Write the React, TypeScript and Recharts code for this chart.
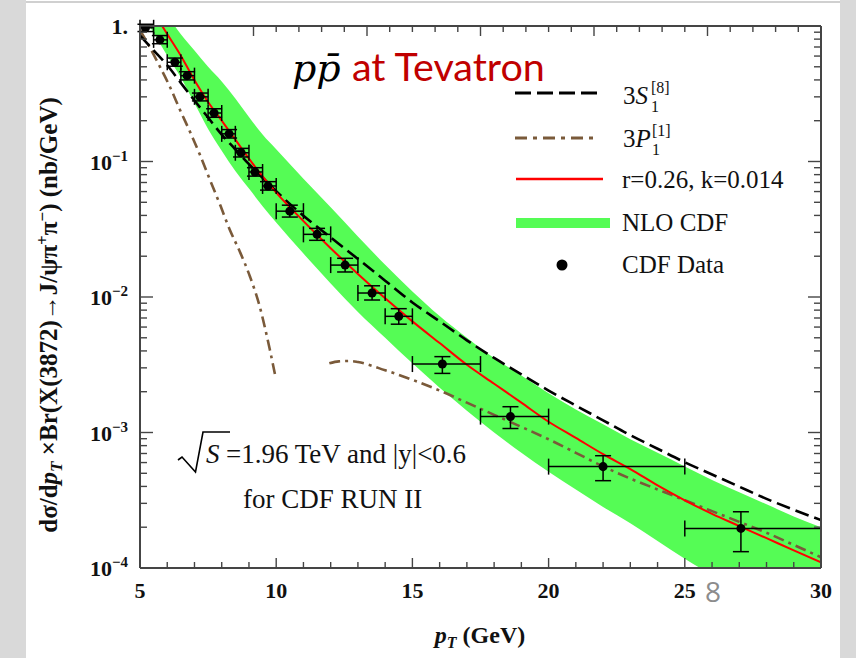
import React from 'react';
import { ComposedChart, Line, Area, Scatter, XAxis, YAxis, ErrorBar } from 'recharts';

// ---------- CDF data points ----------
const ptData = [5.2, 5.73, 6.28, 6.73, 7.2, 7.72, 8.27, 8.71, 9.22, 9.7, 10.5, 11.5, 12.53, 13.52, 14.5, 16.1, 18.6, 22.0, 27.06];
const sigmaData = [0.97, 0.79, 0.54, 0.43, 0.30, 0.228, 0.160, 0.116, 0.0837, 0.066, 0.043, 0.029, 0.0172, 0.0107, 0.0072, 0.0032, 0.00131, 0.00056, 0.000196];
const sigmaLo = [0.91, 0.74, 0.505, 0.40, 0.28, 0.212, 0.149, 0.108, 0.078, 0.0615, 0.0389, 0.0262, 0.0153, 0.0095, 0.0063, 0.00273, 0.00107, 0.000441, 0.000132];
const sigmaHi = [1.03, 0.85, 0.58, 0.46, 0.32, 0.245, 0.172, 0.125, 0.090, 0.071, 0.0476, 0.0321, 0.0193, 0.0121, 0.0082, 0.00363, 0.00155, 0.000674, 0.00026];
const ptBinLo = [5, 5.5, 6, 6.5, 7, 7.5, 8, 8.5, 9, 9.5, 10, 11, 12, 13, 14, 15, 17.5, 20, 25];
const ptBinHi = [5.5, 6, 6.5, 7, 7.5, 8, 8.5, 9, 9.5, 10, 11, 12, 13, 14, 15, 17.5, 20, 25, 30];

// ---------- NLO CDF band ----------
const bandPt = [5, 5.5, 6, 6.5, 7, 7.5, 8, 8.5, 9, 9.5, 10, 11, 12, 13, 14, 15, 16, 17, 18, 19, 20, 21, 22, 23, 24, 25, 26, 27, 28, 29, 30];
const bandUpper = [2.4, 1.7, 1.2, 0.87, 0.66, 0.50, 0.39, 0.292, 0.213, 0.158, 0.123, 0.0745, 0.0460, 0.0280, 0.0173, 0.0110, 0.00724, 0.00501, 0.00355, 0.00263, 0.00195, 0.00148, 0.00115, 0.000891, 0.000708, 0.000562, 0.000447, 0.000363, 0.000295, 0.000240, 0.000200];
const bandLower = [1.32, 0.891, 0.603, 0.417, 0.269, 0.174, 0.120, 0.0851, 0.0631, 0.0468, 0.0355, 0.0209, 0.0126, 0.00776, 0.00501, 0.00324, 0.00214, 0.00145, 0.00100, 0.000708, 0.000513, 0.000380, 0.000282, 0.000214, 0.000158, 0.000117, 0.0000891, 0.0000708, 0.0000562, 0.0000447, 0.0000355];

// ---------- r=0.26, k=0.014 (red) ----------
const redPt = [5.6, 5.75, 6, 6.5, 7, 7.5, 8, 8.5, 9, 9.5, 10, 11, 12, 13, 14, 15, 16, 17, 18, 19, 20, 21, 22, 23, 24, 25, 26, 27, 28, 29, 30];
const redVal = [1.17, 1.05, 0.871, 0.603, 0.398, 0.275, 0.200, 0.145, 0.105, 0.0776, 0.0589, 0.0363, 0.0229, 0.0148, 0.00977, 0.00661, 0.00457, 0.00316, 0.00229, 0.00166, 0.00120, 0.000912, 0.000692, 0.000537, 0.000407, 0.000316, 0.000251, 0.000204, 0.000166, 0.000135, 0.000110];

// ---------- 3S1[8] (black dashed) ----------
const s8Pt = [5, 5.5, 6, 6.5, 7, 7.5, 8, 8.5, 9, 9.5, 10, 11, 12, 13, 14, 15, 16, 17, 18, 19, 20, 21, 22, 23, 24, 25, 26, 27, 28, 29, 30];
const s8Val = [0.851, 0.661, 0.513, 0.380, 0.282, 0.211, 0.158, 0.123, 0.0955, 0.0759, 0.0603, 0.0398, 0.0275, 0.0191, 0.0132, 0.00912, 0.00661, 0.00479, 0.00355, 0.00269, 0.00204, 0.00158, 0.00123, 0.000955, 0.000759, 0.000603, 0.000490, 0.000398, 0.000324, 0.000269, 0.000226];

// ---------- 3P1[1] (brown dash-dot), two branches ----------
const p1aPt = [5.0, 5.37, 5.73, 6.10, 6.47, 6.84, 7.20, 7.57, 7.94, 8.30, 8.67, 9.04, 9.41, 9.59, 9.77, 9.99];
const p1aVal = [0.933, 0.689, 0.501, 0.355, 0.240, 0.165, 0.112, 0.0730, 0.0479, 0.0312, 0.0215, 0.0141, 0.0083, 0.0059, 0.00406, 0.00248];
const p1bPt = [11.95, 12.3, 12.7, 13, 14, 15, 16, 17, 18, 19, 20, 21, 22, 23, 24, 25, 26, 27, 28, 29, 30];
const p1bVal = [0.00324, 0.00335, 0.00337, 0.00331, 0.00288, 0.00245, 0.00204, 0.00166, 0.00135, 0.00110, 0.000891, 0.000708, 0.000562, 0.000457, 0.000380, 0.000316, 0.000263, 0.000219, 0.000182, 0.000148, 0.000120];

// ---------- ticks ----------
const xTicks = [5, 6, 7, 8, 9, 10, 11, 12, 13, 14, 15, 16, 17, 18, 19, 20, 21, 22, 23, 24, 25, 26, 27, 28, 29, 30];
const yTicks = [
  0.0001, 0.0002, 0.0003, 0.0004, 0.0005, 0.0006, 0.0007, 0.0008, 0.0009,
  0.001, 0.002, 0.003, 0.004, 0.005, 0.006, 0.007, 0.008, 0.009,
  0.01, 0.02, 0.03, 0.04, 0.05, 0.06, 0.07, 0.08, 0.09,
  0.1, 0.2, 0.3, 0.4, 0.5, 0.6, 0.7, 0.8, 0.9, 1,
];
const yMajorLabels: Record<string, string> = { '1': '', '0.1': '−1', '0.01': '−2', '0.001': '−3', '0.0001': '−4' };

// ---------- build tables ----------
const bandData = bandPt.map((p, i) => ({ pt: p, band: [bandLower[i], bandUpper[i]] }));
const redData = redPt.map((p, i) => ({ pt: p, v: redVal[i] }));
const s8Data = s8Pt.map((p, i) => ({ pt: p, v: s8Val[i] }));
const p1aData = p1aPt.map((p, i) => ({ pt: p, v: p1aVal[i] }));
const p1bData = p1bPt.map((p, i) => ({ pt: p, v: p1bVal[i] }));
const cdfData = ptData.map((p, i) => ({
  pt: p,
  sigma: sigmaData[i],
  ex: [p - ptBinLo[i], ptBinHi[i] - p],
  ey: [sigmaData[i] - sigmaLo[i], sigmaHi[i] - sigmaData[i]],
}));

const SERIF = 'Liberation Serif';
const AXIS = '#454545';
const GREEN = '#55fc55';
const BROWN = '#7a5a3a';

const isMajorY = (v: number) => {
  const l = Math.log10(v);
  return Math.abs(l - Math.round(l)) < 1e-6;
};
const isMajorX = (v: number) => Math.abs(v / 5 - Math.round(v / 5)) < 1e-6;

function BottomTick(props: any) {
  const { x, y, payload } = props;
  const v = payload.value;
  const major = isMajorX(v);
  return (
    <g>
      <line x1={x} y1={y} x2={x} y2={y - (major ? 10 : 6)} stroke={AXIS} strokeWidth={1.4} />
      {major && (
        <text x={x} y={y + 30} textAnchor="middle" fontFamily={SERIF} fontWeight="bold" fontSize={22} fill="#111">
          {v}
        </text>
      )}
    </g>
  );
}

function TopTick(props: any) {
  const { x, y, payload } = props;
  const major = isMajorX(payload.value);
  return <line x1={x} y1={y} x2={x} y2={y + (major ? 10 : 6)} stroke={AXIS} strokeWidth={1.4} />;
}

function LeftTick(props: any) {
  const { x, y, payload } = props;
  const v = payload.value;
  const major = isMajorY(v);
  const key = String(v);
  return (
    <g>
      <line x1={x} y1={y} x2={x + (major ? 13 : 7)} y2={y} stroke={AXIS} strokeWidth={1.4} />
      {major && (
        <text x={x - 12} y={y + 8} textAnchor="end" fontFamily={SERIF} fontWeight="bold" fontSize={22} fill="#111">
          {v === 1 ? (
            '1.'
          ) : (
            <>
              10
              <tspan fontSize={15} dy={-9}>
                {yMajorLabels[key]}
              </tspan>
            </>
          )}
        </text>
      )}
    </g>
  );
}

function RightTick(props: any) {
  const { x, y, payload } = props;
  const major = isMajorY(payload.value);
  return <line x1={x} y1={y} x2={x - (major ? 13 : 7)} y2={y} stroke={AXIS} strokeWidth={1.4} />;
}

function Overlay() {
  return (
    <svg width={856} height={658} style={{ position: 'absolute', left: 0, top: 0, pointerEvents: 'none' }}>
      {/* title */}
      <text x={292} y={81} fontFamily="DejaVu Serif" fontStyle="italic" fontSize={38} fill="#000">
        {'pp\u0304'}
      </text>
      <text x={352} y={81} fontFamily="Lato" fontSize={39.5} fill="#c00000">
        at Tevatron
      </text>

      {/* legend */}
      <line x1={515} y1={93} x2={597} y2={93} stroke="#000" strokeWidth={3} strokeDasharray="16 6" />
      <text x={623} y={104} fontFamily={SERIF} fontSize={25} fill="#111">
        3<tspan fontStyle="italic">S</tspan>
      </text>
      <text x={651} y={112} fontFamily={SERIF} fontSize={16} fill="#111">1</text>
      <text x={651} y={93} fontFamily={SERIF} fontSize={16} fill="#111">[8]</text>

      <line x1={515} y1={138} x2={593} y2={138} stroke={BROWN} strokeWidth={3} strokeDasharray="12 6 4 6" />
      <text x={623} y={147} fontFamily={SERIF} fontSize={25} fill="#111">
        3<tspan fontStyle="italic">P</tspan>
      </text>
      <text x={652} y={155} fontFamily={SERIF} fontSize={16} fill="#111">1</text>
      <text x={652} y={136} fontFamily={SERIF} fontSize={16} fill="#111">[1]</text>

      <line x1={516} y1={179} x2={603} y2={179} stroke="#f00" strokeWidth={2.5} />
      <text x={622} y={188} fontFamily={SERIF} fontSize={25} fill="#111">r=0.26, k=0.014</text>

      <rect x={516} y={218} width={94} height={10} fill={GREEN} />
      <text x={622} y={231} fontFamily={SERIF} fontSize={25} fill="#111">NLO CDF</text>

      <circle cx={562} cy={265} r={5.5} fill="#000" />
      <text x={622} y={273} fontFamily={SERIF} fontSize={25} fill="#111">CDF Data</text>

      {/* annotation */}
      <path d="M178,460 L182,457 L195.5,472 L203,432 L230,432" stroke="#000" strokeWidth={1.6} fill="none" />
      <text x={206} y={463} fontFamily={SERIF} fontStyle="italic" fontSize={27} fill="#111">S</text>
      <text x={226} y={463} fontFamily={SERIF} fontSize={27} fill="#111">=1.96 TeV and |y|&lt;0.6</text>
      <text x={243} y={508} fontFamily={SERIF} fontSize={27} fill="#111">for CDF RUN II</text>

      {/* axis labels */}
      <text x={480} y={643} textAnchor="middle" fontFamily={SERIF} fontWeight="bold" fontSize={24} fill="#111">
        <tspan fontStyle="italic">p</tspan>
        <tspan fontStyle="italic" fontSize={16} dy={5}>T</tspan>
        <tspan dy={-5}> (GeV)</tspan>
      </text>
      <text
        transform="translate(57,315) rotate(-90)"
        textAnchor="middle"
        fontFamily={SERIF}
        fontWeight="bold"
        fontSize={25}
        fill="#111"
      >
        {'dσ/d'}
        <tspan fontStyle="italic">p</tspan>
        <tspan fontStyle="italic" fontSize={17} dy={5}>T</tspan>
        <tspan dy={-5}>{' ×Br(X(3872)→J/ψπ'}</tspan>
        <tspan fontSize={17} dy={-9}>+</tspan>
        <tspan dy={9}>π</tspan>
        <tspan fontSize={17} dy={-9}>−</tspan>
        <tspan dy={9}>{') (nb/GeV)'}</tspan>
      </text>

      {/* slide page number */}
      <text x={713} y={602} textAnchor="middle" fontFamily="Open Sans" fontSize={28} fill="#8c8c8c">8</text>
    </svg>
  );
}

export default function App() {
  return (
    <div style={{ position: 'absolute', left: 0, top: 0, width: 856, height: 658, background: '#fff', overflow: 'hidden' }}>
      <div style={{ position: 'absolute', left: 0, top: 0, width: 26, height: 658, background: '#d9d9d9' }} />
      <div style={{ position: 'absolute', left: 840, top: 0, width: 16, height: 658, background: '#d9d9d9' }} />
      <div style={{ position: 'absolute', left: 26, top: 1, width: 814, height: 2, background: '#d0d0d0' }} />
      <div style={{ position: 'absolute', left: 0, top: 0 }}>
        <ComposedChart width={856} height={658} data={bandData} margin={{ top: 25, right: 34, bottom: 89, left: 139 }}>
          <XAxis
            dataKey="pt"
            type="number"
            domain={[5, 30]}
            allowDataOverflow
            ticks={xTicks}
            interval={0}
            height={1}
            tickSize={0}
            tickMargin={0}
            tickLine={false}
            axisLine={{ stroke: AXIS, strokeWidth: 2 }}
            tick={(p: any) => <BottomTick {...p} />}
          />
          <XAxis
            xAxisId="top"
            orientation="top"
            type="number"
            domain={[5, 30]}
            allowDataOverflow
            ticks={xTicks}
            interval={0}
            height={1}
            tickSize={0}
            tickMargin={0}
            tickLine={false}
            axisLine={{ stroke: AXIS, strokeWidth: 2 }}
            tick={(p: any) => <TopTick {...p} />}
          />
          <YAxis
            dataKey="sigma"
            type="number"
            scale="log"
            domain={[0.0001, 1]}
            allowDataOverflow
            ticks={yTicks}
            interval={0}
            width={1}
            tickSize={0}
            tickMargin={0}
            tickLine={false}
            axisLine={{ stroke: AXIS, strokeWidth: 2 }}
            tick={(p: any) => <LeftTick {...p} />}
          />
          <YAxis
            yAxisId="right"
            orientation="right"
            type="number"
            scale="log"
            domain={[0.0001, 1]}
            allowDataOverflow
            ticks={yTicks}
            interval={0}
            width={1}
            tickSize={0}
            tickMargin={0}
            tickLine={false}
            axisLine={{ stroke: AXIS, strokeWidth: 2 }}
            tick={(p: any) => <RightTick {...p} />}
          />
          <Area dataKey="band" type="monotone" stroke="none" fill={GREEN} fillOpacity={1} isAnimationActive={false} />
          <Line data={p1aData} dataKey="v" type="monotone" stroke={BROWN} strokeWidth={2.6} strokeDasharray="11 5 3 5" dot={false} isAnimationActive={false} />
          <Line data={p1bData} dataKey="v" type="monotone" stroke={BROWN} strokeWidth={2.6} strokeDasharray="11 5 3 5" dot={false} isAnimationActive={false} />
          <Line data={s8Data} dataKey="v" type="monotone" stroke="#000" strokeWidth={2.6} strokeDasharray="14 6" dot={false} isAnimationActive={false} />
          <Line data={redData} dataKey="v" type="monotone" stroke="#f00" strokeWidth={2} dot={false} isAnimationActive={false} />
          <Scatter data={cdfData} dataKey="sigma" fill="#000" shape="circle" isAnimationActive={false}>
            <ErrorBar dataKey="ey" direction="y" width={8} stroke="#000" strokeWidth={1.5} />
            <ErrorBar dataKey="ex" direction="x" width={8} stroke="#000" strokeWidth={1.5} />
          </Scatter>
        </ComposedChart>
      </div>
      <Overlay />
    </div>
  );
}
